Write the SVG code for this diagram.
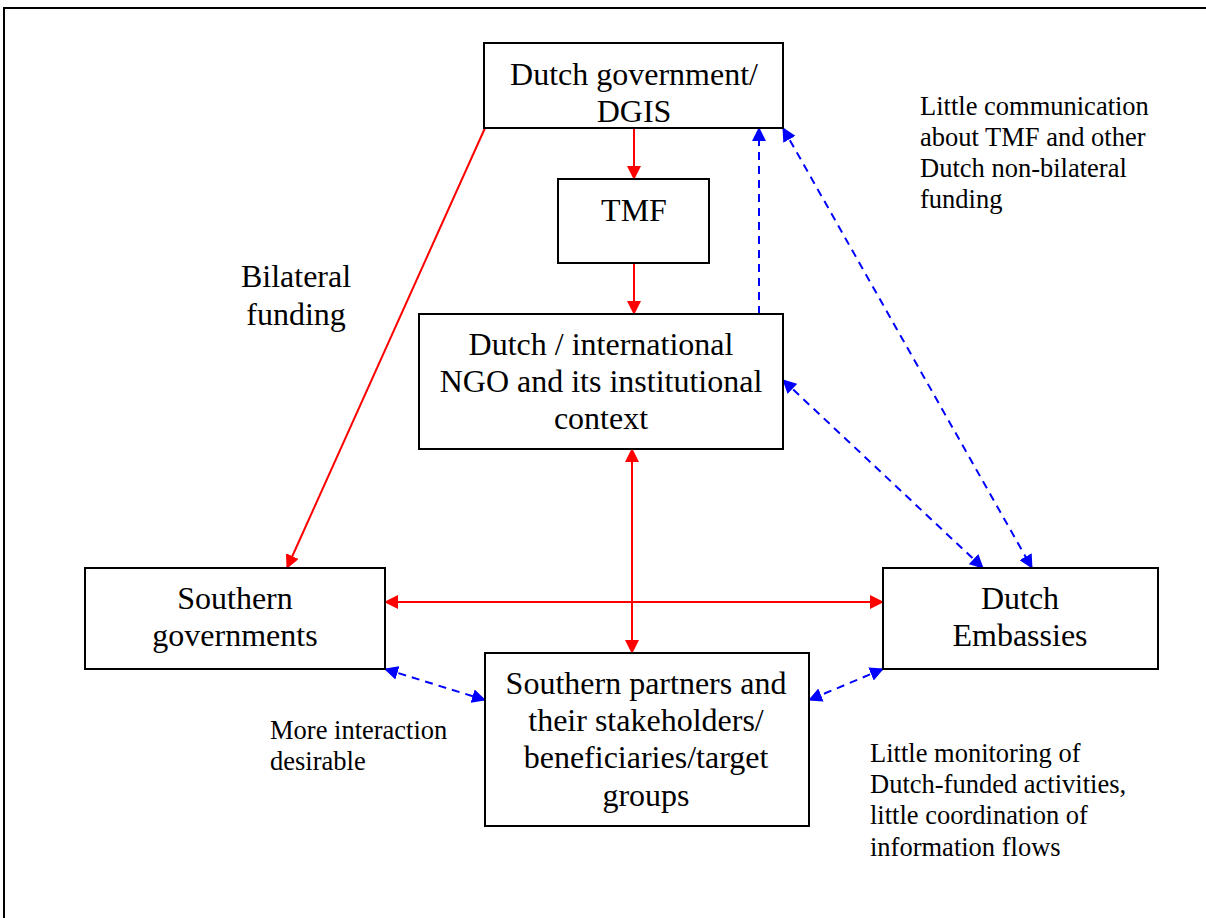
<svg xmlns="http://www.w3.org/2000/svg" width="1206" height="918" viewBox="0 0 1206 918">
<style>
.box{fill:#fff;stroke:#000;stroke-width:2}
.t{font-family:"Liberation Serif","Times New Roman",serif;font-size:32px;fill:#000;text-anchor:middle}
.s{font-family:"Liberation Serif","Times New Roman",serif;font-size:26.5px;fill:#000}
.red{stroke:#f00;stroke-width:2;fill:none}
.blue{stroke:#00f;stroke-width:2;fill:none;stroke-dasharray:8,6}
</style>
<defs>
<marker id="ar" markerWidth="14" markerHeight="14" refX="13" refY="7" orient="auto-start-reverse" markerUnits="userSpaceOnUse"><path d="M0,0 L14,7 L0,14 z" fill="#f00"/></marker>
<marker id="ab" markerWidth="14" markerHeight="14" refX="13" refY="7" orient="auto-start-reverse" markerUnits="userSpaceOnUse"><path d="M0,0 L14,7 L0,14 z" fill="#00f"/></marker>
</defs>
<rect x="0" y="0" width="1206" height="918" fill="#fff"/>
<path d="M4,918 V8 H1206" fill="none" stroke="#000" stroke-width="2"/>
<g id="connectors">
<line class="red" x1="634" y1="128" x2="634" y2="179" marker-end="url(#ar)"/>
<line class="red" x1="634" y1="263" x2="634" y2="314" marker-end="url(#ar)"/>
<line class="red" x1="485" y1="128" x2="287" y2="568" marker-end="url(#ar)"/>
<line class="red" x1="632" y1="449" x2="632" y2="653" marker-start="url(#ar)" marker-end="url(#ar)"/>
<line class="red" x1="385" y1="602" x2="883" y2="602" marker-start="url(#ar)" marker-end="url(#ar)"/>
<line class="blue" x1="759" y1="314" x2="759" y2="128" marker-end="url(#ab)"/>
<line class="blue" x1="783" y1="128" x2="1032" y2="568" marker-start="url(#ab)" marker-end="url(#ab)"/>
<line class="blue" x1="783" y1="380" x2="983" y2="568" marker-start="url(#ab)" marker-end="url(#ab)"/>
<line class="blue" x1="385" y1="669" x2="485" y2="700" marker-start="url(#ab)" marker-end="url(#ab)"/>
<line class="blue" x1="883" y1="669" x2="809" y2="700" marker-start="url(#ab)" marker-end="url(#ab)"/>
</g>
<g id="dgis"><rect class="box" x="484" y="43" width="299" height="85"/><text class="t" x="634" y="85">Dutch government/</text><text class="t" x="634" y="122">DGIS</text></g>
<g id="tmf"><rect class="box" x="558" y="179" width="151" height="84"/><text class="t" x="634" y="221">TMF</text></g>
<g id="ngo"><rect class="box" x="419" y="314" width="364" height="135"/><text class="t" x="601" y="355">Dutch / international</text><text class="t" x="601" y="392">NGO and its institutional</text><text class="t" x="601" y="429">context</text></g>
<g id="southern-governments"><rect class="box" x="85" y="568" width="300" height="101"/><text class="t" x="235" y="609">Southern</text><text class="t" x="235" y="646">governments</text></g>
<g id="embassies"><rect class="box" x="883" y="568" width="275" height="101"/><text class="t" x="1020" y="609">Dutch</text><text class="t" x="1020" y="646">Embassies</text></g>
<g id="partners"><rect class="box" x="485" y="653" width="324" height="173"/><text class="t" x="646" y="694">Southern partners and</text><text class="t" x="646" y="731">their stakeholders/</text><text class="t" x="646" y="768">beneficiaries/target</text><text class="t" x="646" y="806">groups</text></g>
<g id="labels">
<text class="t" x="296" y="287">Bilateral</text><text class="t" x="296" y="325">funding</text>
<text class="s" x="920" y="115">Little communication</text><text class="s" x="920" y="146">about TMF and other</text><text class="s" x="920" y="177">Dutch non-bilateral</text><text class="s" x="920" y="208">funding</text>
<text class="s" x="270" y="739">More interaction</text><text class="s" x="270" y="770">desirable</text>
<text class="s" x="870" y="762">Little monitoring of</text><text class="s" x="870" y="793">Dutch-funded activities,</text><text class="s" x="870" y="824">little coordination of</text><text class="s" x="870" y="856">information flows</text>
</g>
</svg>
